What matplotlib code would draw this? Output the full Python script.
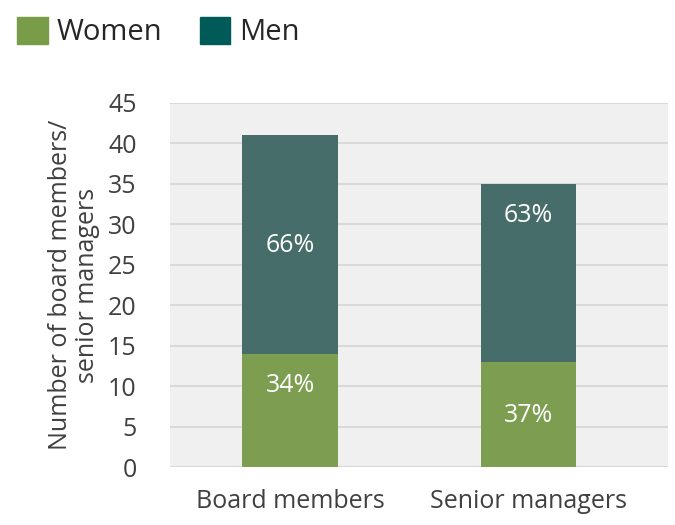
import matplotlib.pyplot as plt
from matplotlib.patches import Patch

# --- Dados ---
categorias = ["Board members", "Senior managers"]
mulheres = [14, 13]
homens = [27, 22]
rotulos_mulheres = ["34%", "37%"]
rotulos_homens = ["66%", "63%"]
# posição vertical dos rótulos (em unidades do eixo y)
y_rot_mulheres = [10.1, 6.4]
y_rot_homens = [27.4, 31.1]

cor_mulheres = "#7d9e50"
cor_homens = "#476d6a"
cor_leg_mulheres = "#789c48"
cor_leg_homens = "#005a58"

plt.rcParams['font.family'] = ['Open Sans', 'DejaVu Sans']

fig = plt.figure(figsize=(6.75, 5.25), dpi=100)
ax = fig.add_axes([0.252, 0.110, 0.738, 0.694])
ax.set_facecolor("#f0f0f0")

x = range(len(categorias))
ax.bar(x, mulheres, width=0.4, color=cor_mulheres, zorder=3)
ax.bar(x, homens, width=0.4, bottom=mulheres, color=cor_homens, zorder=3)

for i in x:
    ax.text(i, y_rot_mulheres[i], rotulos_mulheres[i], ha='center', va='center',
            color='white', fontsize=18, zorder=4)
    ax.text(i, y_rot_homens[i], rotulos_homens[i], ha='center', va='center',
            color='white', fontsize=18, zorder=4)

ax.set_xlim(-0.504, 1.588)
ax.set_ylim(0, 45)
ax.set_yticks(range(0, 46, 5))
ax.set_xticks(list(x))
ax.set_xticklabels(categorias)
ax.yaxis.grid(True, color="#d9d9d9", linewidth=1.5, zorder=0)
ax.tick_params(axis='both', length=0, labelsize=18, colors="#404040")
ax.tick_params(axis='x', pad=16)
ax.tick_params(axis='y', pad=24)
for s in ax.spines.values():
    s.set_visible(False)

ax.set_ylabel("Number of board members/\nsenior managers", fontsize=18,
              color="#404040", linespacing=1.1, labelpad=6)

handles = [Patch(color=cor_leg_mulheres, label="Women"),
           Patch(color=cor_leg_homens, label="Men")]
fig.legend(handles=handles, loc='upper left', bbox_to_anchor=(0.025, 0.968), ncol=2,
           frameon=False, fontsize=21, handlelength=1.05, handleheight=1.05,
           handletextpad=0.3, columnspacing=1.3, borderpad=0, borderaxespad=0,
           labelcolor="#262626")

fig.savefig("out.png")
